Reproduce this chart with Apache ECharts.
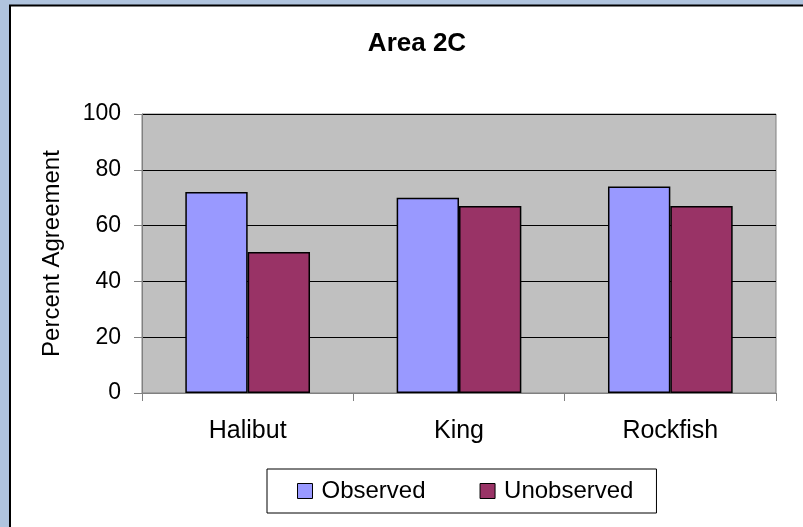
<!DOCTYPE html>
<html>
<head>
<meta charset="utf-8">
<script src="https://cdn.jsdelivr.net/npm/echarts@6/dist/echarts.min.js"></script>
<style>
  html, body { margin: 0; padding: 0; }
  #main { width: 803px; height: 527px; }
</style>
</head>
<body>
<div id="main"></div>
<script>
// Area 2C - percent agreement
var categories = ['Halibut', 'King', 'Rockfish'];
var observed = [72, 70, 74];
var unobserved = [50.5, 67, 67];
var yTicks = [0, 20, 40, 60, 80, 100];

var myChart = echarts.init(document.getElementById('main'));
var font = 'Arial, "Liberation Sans", sans-serif';

var option = {
	backgroundColor: '#b0c4de',
	animation: false,
	textStyle: { fontFamily: font },
	graphic: [{
		type: 'rect',
		silent: true,
		z: -10,
		shape: { x: 10, y: 5.5, width: 820, height: 540 },
		style: { fill: '#ffffff', stroke: '#000000', lineWidth: 2 }
	}],
	title: {
		text: 'Area 2C',
		left: 412,
		textAlign: 'center',
		top: 26,
		textStyle: { fontSize: 26, fontWeight: 'bold', color: '#000', fontFamily: font }
	},
	legend: {
		data: ['Observed', 'Unobserved'],
		left: 267,
		top: 469,
		padding: [10, 23, 10, 30],
		itemGap: 54,
		itemWidth: 15,
		itemHeight: 15,
		borderColor: '#000',
		borderWidth: 1,
		icon: 'rect',
		itemStyle: { borderColor: '#000', borderWidth: 1 },
		textStyle: { fontSize: 24, color: '#000', fontFamily: font, padding: [0, 0, 0, 4] }
	},
	grid: {
		left: 142,
		top: 114,
		right: 27,
		bottom: 134,
		show: true,
		backgroundColor: '#c0c0c0',
		borderColor: '#808080',
		borderWidth: 1
	},
	xAxis: {
		type: 'category',
		data: categories,
		axisLine: { lineStyle: { color: '#808080', width: 1 } },
		axisTick: { show: true, length: 8, lineStyle: { color: '#808080' } },
		axisLabel: { fontSize: 25, color: '#000', margin: 26, fontFamily: font },
		splitLine: { show: false }
	},
	yAxis: {
		type: 'value',
		min: yTicks[0],
		max: yTicks[yTicks.length - 1],
		interval: 20,
		name: 'Percent Agreement',
		nameLocation: 'middle',
		nameGap: 78,
		nameTextStyle: { fontSize: 24, color: '#000', fontFamily: font },
		axisLine: { show: true, lineStyle: { color: '#808080', width: 1 } },
		axisTick: { show: true, length: 8, lineStyle: { color: '#808080' } },
		axisLabel: { fontSize: 23, color: '#000', margin: 21, fontFamily: font },
		splitLine: { show: true, lineStyle: { color: '#000', width: 1 } }
	},
	series: [{
		name: 'Observed',
		type: 'bar',
		data: observed,
		barGap: '0%',
		barCategoryGap: '41%',
		itemStyle: { color: '#9999ff', borderColor: '#000', borderWidth: 1.5 }
	}, {
		name: 'Unobserved',
		type: 'bar',
		data: unobserved,
		itemStyle: { color: '#993366', borderColor: '#000', borderWidth: 1.5 }
	}]
};
myChart.setOption(option);
</script>
</body>
</html>
